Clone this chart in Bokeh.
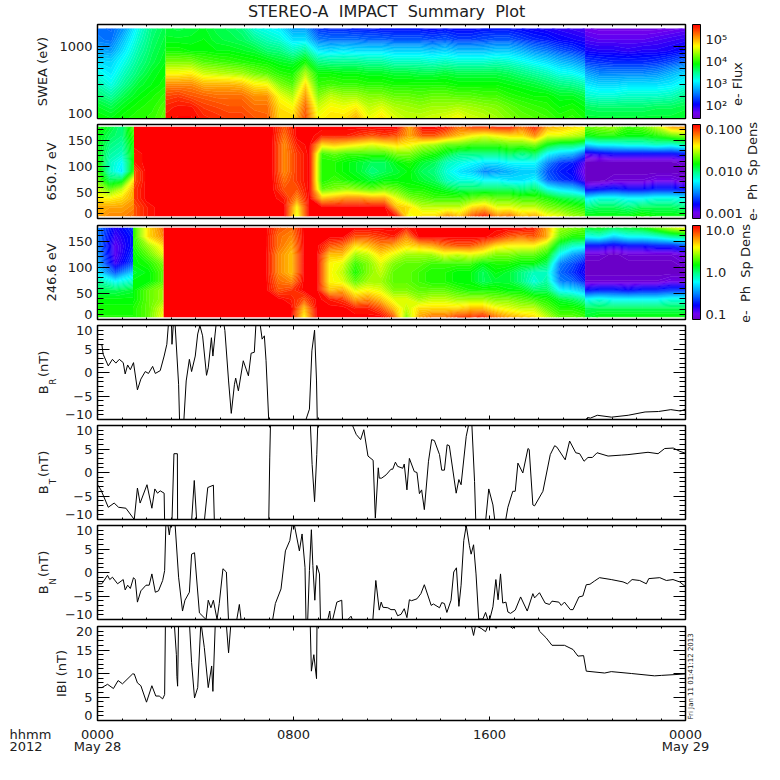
# STEREO-A IMPACT summary plot, 2012 May 28
import numpy as np
from bokeh.embed import file_html
from bokeh.layouts import column
from bokeh.models import ColorBar, FixedTicker, Label, LinearAxis, LogAxis, LogColorMapper, Range1d
from bokeh.plotting import figure
from bokeh.resources import INLINE

FONT = "DejaVu Sans"

# palette anchors of the colour bars
palette_pos = [0, 0.06, 0.15, 0.27, 0.40, 0.50, 0.58, 0.77, 0.87, 1.0]
palette_rgb = [(106, 0, 200), (112, 0, 240), (0, 0, 255), (0, 128, 255), (0, 255, 255),
               (0, 255, 128), (0, 255, 0), (255, 255, 0), (255, 144, 0), (255, 0, 0)]

# SWEA log10 flux, one list per time column, lowest energy first
energy_bins = [100, 143, 205, 293, 420, 602, 862, 1235, 1770]
swea_edges = [0, 2.78, 19.9, 24]
swea_a = [
    [3.9, 3.8, 3.6, 3.4, 3.2, 3.0, 2.75, 2.55, 2.5],
    [3.85, 3.7, 3.45, 3.2, 3.05, 2.95, 2.7, 2.5, 2.45],
    [3.95, 3.85, 3.7, 3.5, 3.35, 3.2, 3.05, 2.9, 2.7],
    [4.0, 3.95, 3.85, 3.75, 3.6, 3.5, 3.4, 3.3, 3.2],
    [4.05, 4.0, 3.95, 3.85, 3.8, 3.7, 3.65, 3.6, 3.55],
    [4.2, 4.15, 4.05, 3.95, 3.9, 3.85, 3.8, 3.75, 3.7],
]
swea_b = [
    [5.6, 5.55, 5.4, 5.15, 4.7, 4.3, 3.95, 3.8, 3.75],
    [5.65, 5.6, 5.45, 5.15, 4.7, 4.3, 3.95, 3.8, 3.7],
    [5.65, 5.6, 5.35, 5.15, 4.75, 4.3, 3.9, 3.8, 3.75],
    [5.55, 5.45, 5.3, 5.0, 4.55, 4.15, 3.9, 3.85, 3.8],
    [5.5, 5.4, 5.25, 5.0, 4.5, 4.1, 3.85, 3.75, 3.7],
    [5.45, 5.35, 5.25, 5.0, 4.45, 4.05, 3.85, 3.7, 3.65],
    [5.45, 5.35, 5.25, 4.95, 4.4, 4.0, 3.8, 3.65, 3.55],
    [5.35, 5.25, 5.1, 4.75, 4.25, 3.95, 3.75, 3.5, 3.25],
    [5.3, 5.25, 5.1, 4.7, 4.15, 3.9, 3.6, 3.35, 3.15],
    [4.85, 4.8, 4.65, 4.3, 4.0, 3.8, 3.55, 3.25, 3.05],
    [4.85, 4.7, 4.45, 4.15, 3.95, 3.75, 3.35, 3.0, 2.7],
    [5.4, 5.3, 5.1, 4.85, 4.45, 3.95, 3.5, 3.0, 2.7],
    [4.7, 4.55, 4.3, 4.05, 3.9, 3.55, 3.05, 2.55, 2.25],
    [4.8, 4.7, 4.5, 4.1, 3.9, 3.5, 3.0, 2.5, 2.2],
    [4.8, 4.65, 4.4, 4.05, 3.85, 3.5, 3.05, 2.5, 2.2],
    [5.0, 4.75, 4.4, 4.05, 3.85, 3.5, 3.0, 2.5, 2.15],
    [4.65, 4.5, 4.3, 4.0, 3.8, 3.45, 3.0, 2.45, 2.15],
    [4.8, 4.6, 4.3, 4.0, 3.8, 3.45, 3.0, 2.45, 2.1],
    [4.6, 4.45, 4.2, 3.95, 3.75, 3.35, 2.95, 2.4, 2.1],
    [4.5, 4.4, 4.2, 3.95, 3.75, 3.35, 2.95, 2.4, 2.1],
    [4.5, 4.35, 4.15, 3.95, 3.7, 3.35, 2.95, 2.4, 2.1],
    [4.55, 4.4, 4.2, 3.95, 3.7, 3.3, 2.9, 2.35, 2.05],
    [4.6, 4.4, 4.2, 3.95, 3.75, 3.35, 2.95, 2.4, 2.1],
    [4.7, 4.45, 4.15, 3.9, 3.7, 3.3, 2.85, 2.3, 2.05],
    [4.55, 4.4, 4.15, 3.9, 3.7, 3.3, 2.85, 2.3, 2.05],
    [4.5, 4.35, 4.1, 3.9, 3.7, 3.3, 2.85, 2.35, 2.1],
    [4.4, 4.3, 4.1, 3.9, 3.7, 3.35, 2.9, 2.4, 2.1],
    [4.3, 4.2, 4.0, 3.85, 3.65, 3.3, 2.9, 2.4, 2.1],
    [4.2, 4.1, 3.95, 3.8, 3.55, 3.2, 2.8, 2.3, 2.05],
    [4.15, 4.05, 3.9, 3.75, 3.45, 3.1, 2.65, 2.2, 2.0],
    [4.1, 4.0, 3.9, 3.65, 3.35, 3.0, 2.55, 2.15, 1.95],
    [4.0, 3.9, 3.8, 3.55, 3.2, 2.85, 2.4, 2.05, 1.9],
    [4.05, 3.95, 3.8, 3.5, 3.15, 2.75, 2.3, 2.0, 1.85],
    [3.95, 3.85, 3.7, 3.4, 3.0, 2.6, 2.15, 1.95, 1.8],
]
swea_c = [
    [3.75, 3.65, 3.3, 3.05, 2.75, 2.3, 2.0, 1.8, 1.65],
    [3.75, 3.6, 3.25, 2.95, 2.6, 2.25, 1.95, 1.75, 1.6],
    [3.75, 3.6, 3.25, 2.95, 2.6, 2.2, 1.95, 1.75, 1.6],
    [3.75, 3.6, 3.3, 3.0, 2.6, 2.2, 1.9, 1.75, 1.6],
    [3.75, 3.6, 3.3, 3.0, 2.6, 2.2, 1.95, 1.75, 1.6],
    [3.75, 3.65, 3.3, 3.0, 2.65, 2.25, 1.95, 1.8, 1.6],
    [3.75, 3.65, 3.35, 3.05, 2.8, 2.35, 2.0, 1.85, 1.65],
    [3.8, 3.7, 3.5, 3.2, 2.95, 2.5, 2.1, 1.9, 1.7],
]

# 650.7 eV log10 phase space density vs pitch angle, 0 deg side first
pitch_bins = [4.5, 21.6, 38.7, 55.8, 72.9, 90, 107.1, 124.2, 141.3, 158.4, 175.5]
sat_650 = [-1.0] * 11
pa650_edges = [0, 1.49, 19.9, 24]
pa650_a = [
    [-1.3, -1.3, -1.45, -1.55, -1.7, -1.75, -1.8, -1.85, -1.85, -1.85, -1.8],
    [-1.25, -1.3, -1.45, -1.7, -1.95, -2.1, -2.1, -2.05, -2.0, -1.95, -1.9],
    [-1.25, -1.3, -1.4, -1.55, -1.9, -2.25, -2.2, -2.1, -2.05, -2.0, -2.0],
    [-1.2, -1.25, -1.3, -1.3, -1.4, -1.75, -1.8, -1.8, -1.8, -1.75, -1.7],
]
pa650_b = [
    [-1.15, -1.15, -1.1, -1.1, -1.15, -1.15, -1.05, -1.05, -1.0, -1.0, -1.0],
    [-1.05, -1.05, -1.0, -1.0, -1.0, -1.0, -1.0, -1.0, -1.0, -1.0, -1.0],
    sat_650, sat_650, sat_650, sat_650, sat_650, sat_650, sat_650, sat_650, sat_650, sat_650,
    [-1.0, -1.0, -1.05, -1.15, -1.2, -1.25, -1.25, -1.25, -1.25, -1.2, -1.15],
    [-1.5, -1.45, -1.25, -1.15, -1.1, -1.1, -1.1, -1.1, -1.05, -1.0, -1.0],
    sat_650,
    [-1.0, -1.0, -1.35, -1.7, -1.8, -1.8, -1.8, -1.75, -1.4, -1.05, -1.0],
    [-1.0, -1.0, -1.3, -1.65, -1.75, -1.8, -1.8, -1.7, -1.35, -1.05, -1.0],
    [-1.0, -1.0, -1.25, -1.6, -1.8, -1.85, -1.85, -1.75, -1.4, -1.05, -1.0],
    [-1.0, -1.0, -1.25, -1.65, -1.85, -1.9, -1.9, -1.75, -1.45, -1.1, -1.0],
    [-1.0, -1.0, -1.3, -1.7, -1.9, -2.0, -1.95, -1.75, -1.5, -1.15, -1.0],
    [-1.0, -1.0, -1.3, -1.65, -1.85, -1.95, -1.95, -1.75, -1.45, -1.1, -1.0],
    [-1.05, -1.35, -1.5, -1.7, -1.85, -1.9, -1.85, -1.65, -1.4, -1.15, -1.0],
    [-1.5, -1.4, -1.65, -1.8, -1.85, -1.85, -1.8, -1.65, -1.45, -1.3, -1.3],
    [-1.4, -1.55, -1.7, -1.8, -1.9, -1.95, -1.9, -1.75, -1.55, -1.15, -1.0],
    [-1.4, -1.55, -1.75, -1.85, -1.95, -2.0, -1.95, -1.8, -1.6, -1.15, -1.0],
    [-1.25, -1.55, -1.75, -1.9, -2.1, -2.15, -2.1, -1.9, -1.7, -1.25, -1.05],
    [-1.35, -1.55, -1.75, -1.95, -2.15, -2.25, -2.15, -2.0, -1.7, -1.35, -1.2],
    [-1.15, -1.4, -1.7, -1.95, -2.15, -2.3, -2.2, -2.0, -1.75, -1.45, -1.1],
    [-1.05, -1.35, -1.65, -1.95, -2.2, -2.45, -2.25, -2.0, -1.75, -1.5, -1.1],
    [-1.25, -1.5, -1.7, -1.95, -2.2, -2.4, -2.25, -2.0, -1.75, -1.45, -1.05],
    [-1.2, -1.5, -1.7, -1.95, -2.25, -2.35, -2.2, -1.95, -1.7, -1.4, -1.05],
    [-1.35, -1.55, -1.75, -2.0, -2.25, -2.3, -2.2, -2.0, -1.7, -1.4, -1.2],
    [-1.3, -1.55, -1.75, -1.95, -2.2, -2.3, -2.2, -1.95, -1.65, -1.25, -1.05],
    [-1.45, -1.65, -1.8, -2.15, -2.5, -2.55, -2.45, -2.2, -1.85, -1.5, -1.3],
    [-1.5, -1.7, -1.9, -2.25, -2.6, -2.65, -2.6, -2.3, -1.95, -1.5, -1.35],
    [-1.6, -1.75, -1.95, -2.3, -2.65, -2.7, -2.65, -2.35, -1.95, -1.55, -1.4],
    [-1.65, -1.8, -2.0, -2.45, -2.85, -2.9, -2.85, -2.55, -2.05, -1.6, -1.45],
]
pa650_c = [
    [-1.85, -2.0, -2.25, -2.75, -3.0, -3.0, -3.0, -2.8, -2.3, -1.85, -1.7],
    [-1.85, -1.95, -2.15, -2.7, -3.0, -3.0, -3.0, -2.75, -2.2, -1.8, -1.65],
    [-1.85, -1.95, -2.15, -2.65, -2.95, -3.0, -3.0, -2.7, -2.2, -1.8, -1.6],
    [-1.85, -2.0, -2.2, -2.7, -2.95, -3.0, -3.0, -2.7, -2.15, -1.85, -1.75],
    [-1.8, -1.95, -2.2, -2.7, -2.95, -3.0, -3.0, -2.7, -2.15, -1.85, -1.7],
    [-1.85, -1.95, -2.15, -2.65, -2.9, -3.0, -3.0, -2.7, -2.1, -1.8, -1.55],
    [-1.85, -1.95, -2.15, -2.65, -2.9, -3.0, -3.0, -2.7, -2.15, -1.7, -1.3],
    [-1.85, -2.0, -2.2, -2.7, -2.95, -3.0, -2.95, -2.65, -2.05, -1.65, -1.25],
]

# 246.6 eV log10 phase space density vs pitch angle
sat_246 = [1.0] * 11
pa246_edges = [0, 1.45, 2.7, 19.9, 24]
pa246_a = [
    [0.2, 0.18, 0.15, 0.05, -0.05, -0.25, -0.35, -0.4, -0.45, -0.45, -0.45],
    [0.2, 0.18, 0.15, 0.05, -0.2, -0.55, -0.8, -0.85, -0.85, -0.8, -0.75],
    [0.2, 0.18, 0.15, 0.1, -0.1, -0.3, -0.55, -0.6, -0.65, -0.65, -0.6],
]
pa246_b = [
    [0.2, 0.2, 0.15, 0.15, 0.15, 0.1, 0.15, 0.15, 0.2, 0.2, 0.2],
    [0.3, 0.3, 0.3, 0.3, 0.15, 0.15, 0.2, 0.3, 0.4, 0.6, 0.6],
    [0.55, 0.5, 0.4, 0.4, 0.3, 0.3, 0.35, 0.5, 0.6, 0.75, 0.8],
]
pa246_c = [
    sat_246, sat_246, sat_246, sat_246, sat_246, sat_246, sat_246, sat_246, sat_246,
    [1.0, 1.0, 1.0, 0.85, 0.8, 0.75, 0.75, 0.75, 0.8, 0.8, 0.85],
    [1.0, 1.0, 0.95, 0.9, 0.75, 0.65, 0.65, 0.65, 0.7, 0.75, 0.8],
    [0.55, 0.65, 0.85, 1.0, 1.0, 1.0, 1.0, 1.0, 1.0, 1.0, 1.0],
    sat_246,
    [1.0, 1.0, 0.95, 0.65, 0.55, 0.55, 0.55, 0.65, 0.85, 1.0, 1.0],
    [1.0, 1.0, 0.9, 0.7, 0.5, 0.45, 0.5, 0.65, 0.8, 1.0, 1.0],
    [1.0, 0.95, 0.7, 0.5, 0.3, 0.2, 0.25, 0.4, 0.6, 0.85, 1.0],
    [1.0, 0.95, 0.75, 0.55, 0.4, 0.35, 0.35, 0.45, 0.65, 0.85, 1.0],
    [1.0, 0.85, 0.65, 0.5, 0.4, 0.45, 0.5, 0.6, 0.75, 0.9, 1.0],
    [0.85, 0.65, 0.5, 0.35, 0.3, 0.3, 0.35, 0.5, 0.7, 0.95, 1.0],
    [0.35, 0.45, 0.5, 0.35, 0.3, 0.3, 0.3, 0.4, 0.6, 0.75, 0.95],
    [0.7, 0.6, 0.4, 0.3, 0.25, 0.25, 0.3, 0.4, 0.65, 1.0, 1.0],
    [0.8, 0.6, 0.45, 0.3, 0.2, 0.2, 0.25, 0.4, 0.7, 1.0, 1.0],
    [0.8, 0.6, 0.45, 0.3, 0.2, 0.2, 0.25, 0.5, 0.8, 1.0, 1.0],
    [0.9, 0.6, 0.4, 0.25, 0.15, 0.15, 0.25, 0.45, 0.85, 1.0, 1.0],
    [0.9, 0.65, 0.4, 0.2, 0.15, 0.15, 0.25, 0.5, 0.85, 1.0, 1.0],
    [0.95, 0.65, 0.4, 0.2, 0.05, 0.05, 0.15, 0.45, 0.75, 1.0, 1.0],
    [0.8, 0.55, 0.35, 0.2, 0.1, 0.15, 0.2, 0.35, 0.6, 0.95, 1.0],
    [0.7, 0.5, 0.35, 0.15, 0.1, 0.1, 0.2, 0.35, 0.55, 0.85, 1.0],
    [0.65, 0.45, 0.3, 0.15, 0.0, 0.0, 0.15, 0.3, 0.55, 0.8, 1.0],
    [0.6, 0.45, 0.25, 0.05, -0.15, -0.1, 0.15, 0.3, 0.55, 0.85, 0.95],
    [0.45, 0.3, 0.2, 0.05, -0.05, -0.1, 0.05, 0.2, 0.4, 0.7, 0.7],
    [0.3, 0.2, 0.1, -0.2, -0.45, -0.5, -0.45, -0.2, 0.05, 0.3, 0.4],
    [0.3, 0.2, 0.05, -0.25, -0.5, -0.6, -0.55, -0.4, -0.1, 0.2, 0.35],
    [0.25, 0.15, -0.05, -0.35, -0.65, -0.75, -0.7, -0.5, -0.15, 0.2, 0.3],
]
pa246_d = [
    [0.1, 0.05, -0.2, -0.7, -0.95, -1.0, -1.0, -0.95, -0.7, -0.2, 0.1],
    [0.15, 0.05, -0.15, -0.65, -0.95, -1.0, -1.0, -0.95, -0.7, -0.15, 0.15],
    [0.15, 0.05, -0.2, -0.65, -0.95, -1.0, -1.0, -1.0, -0.75, -0.3, 0.05],
    [0.15, 0.05, -0.2, -0.7, -0.95, -1.0, -1.0, -0.95, -0.7, -0.2, 0.1],
    [0.15, 0.05, -0.2, -0.65, -0.95, -1.0, -1.0, -0.95, -0.7, -0.2, 0.15],
    [0.15, 0.05, -0.2, -0.65, -0.95, -1.0, -1.0, -0.95, -0.65, -0.15, 0.3],
    [0.15, 0.05, -0.15, -0.6, -0.9, -1.0, -1.0, -0.95, -0.65, -0.05, 0.45],
    [0.15, 0.05, -0.15, -0.6, -0.9, -1.0, -0.95, -0.9, -0.55, 0.0, 0.55],
]

# magnetic field, hours from 0000 and nT; off scale stretches run past the axis limits
br_t = [0, .18, .23, .44, .61, .75, .89, 1.05, 1.13, 1.23, 1.34, 1.47, 1.63, 1.77, 1.95, 2.08, 2.25, 2.36, 2.56, 2.72,
        2.83, 2.9, 3.02, 3.04, 3.1, 3.17, 3.31, 3.36, 3.5, 3.62, 3.75, 3.84, 3.99, 4.09, 4.18, 4.29, 4.45, 4.52, 4.65,
        4.71, 4.8, 4.85, 5.15, 5.2, 5.35, 5.46, 5.59, 5.64, 5.75, 5.95, 6.16, 6.27, 6.4, 6.47, 6.63, 6.72, 6.81, 6.88,
        6.99, 7.05, 8.45, 8.51, 8.65, 8.75, 8.86, 8.94, 8.97, 9.02, 19.85, 19.92, 20.02, 20.12, 20.4, 20.98, 21.66,
        22.35, 22.9, 23.4, 23.8, 24]
br_v = [6, 5.9, 3.9, 1.4, 2.8, 2, 2.8, 2.1, -.3, 1.6, .6, 2.1, -3.7, -1.4, .2, -.2, 1.3, -.2, .4, 3.5,
        6, 10.6, 10.6, 6, 10.6, 10, -2.5, -12.4, -12.4, -1.8, 2.8, .2, 3.5, 8.2, 10, 7.8, -.6, 1, 7.4,
        3.5, 8.2, 10.6, 10.6, 8.9, -1.8, -8.7, -2.5, -1.2, -3.9, 2.5, -.7, 4.1, 4.3, 10.6, 10.6, 7.1, 7.8, 2.5,
        -10.3, -14, -14, -10, -7.8, 4.6, 9, -1.8, -10, -14, -14, -10, -9.6, -9.7, -9.1, -9.5, -9.1,
        -8.4, -8.3, -7.9, -8.2, -7.8]
bt_t = [0, .14, .44, .68, .86, 1.16, 1.5, 1.63, 1.74, 2.02, 2.22, 2.34, 2.45, 2.56, 2.72, 2.74, 3.04, 3.12, 3.26, 3.27,
        3.84, 3.95, 4.05, 4.36, 4.5, 4.73, 4.77, 6.99, 7.03, 7.06, 8.69, 8.76, 8.86, 8.95, 8.99, 10.41, 10.56, 10.74,
        10.87, 11.04, 11.25, 11.34, 11.46, 11.5, 11.6, 11.78, 11.98, 12.05, 12.16, 12.25, 12.46, 12.52, 12.63, 12.73,
        12.93, 13.04, 13.14, 13.23, 13.34, 13.51, 13.64, 13.75, 13.96, 14.05, 14.16, 14.27, 14.36, 14.64, 14.75, 14.84,
        15.05, 15.15, 15.28, 15.39, 15.44, 15.84, 15.97, 16.14, 16.22, 16.3, 16.36, 16.65, 16.75, 16.95, 17.05, 17.16,
        17.36, 17.57, 17.62, 17.77, 17.84, 18.18, 18.48, 18.66, 18.75, 19.09, 19.27, 19.52, 19.68, 19.86, 20.02, 20.2,
        20.39, 20.84, 21.38, 21.65, 22.47, 22.88, 23.15, 23.5, 23.77, 24]
bt_v = [-2.6, -3.7, -7.4, -6.5, -7.4, -7.6, -10, -3.3, -6.5, -2.6, -7.6, -3.5, -4.4, -3.9, -4.4, -10.4, -10.4, 4, 4, -10.4,
        -10.4, -1.7, -10.4, -10.4, -3.2, -2.7, -10.4, -10.4, 3.1, 10.2, 10.2, 1.7, -6.2, 3.8, 10.2, 10, 8.1, 7,
        9.1, 3.5, 2.6, -9.7, 1, -1.2, -1.2, -.5, .7, .7, 2.2, 1.3, .9, 1.8, -3.7, 3,
        .2, 0, -4.5, -3.7, -7.9, 2.4, 7, 6.8, 3.8, .5, .5, 5.9, 5.7, -4.4, -1.5, -2.6,
        7.7, 10.2, 10.2, -1.9, -10.4, -10.4, -3.5, -6.9, -10.4, -10, -10.4, -10.4, -7.4, -4, -4, 2,
        -.1, 5.1, 4.9, -6.9, -7.1, -4, 3.8, 5.7, 5.4, 2.7, 6.7, 4.2, 4, 2.4, 3.2, 3.2,
        4.2, 3.5, 3.7, 3.8, 4.3, 4, 5.1, 5.2, 4.5, 4.1]
bn_t = [0, .18, .41, .5, .61, .82, 1.05, 1.13, 1.23, 1.34, 1.47, 1.54, 1.63, 1.77, 1.98, 2.11, 2.22, 2.36, 2.49, 2.66,
        2.74, 2.79, 2.86, 2.93, 3, 3.17, 3.31, 3.47, 3.57, 3.75, 3.84, 3.96, 4.16, 4.43, 4.52, 4.63, 4.73, 4.88, 4.97,
        5.12, 5.26, 5.35, 5.67, 5.79, 5.87, 7.02, 7.15, 7.26, 7.49, 7.67, 7.85, 7.94, 8.04, 8.24, 8.35, 8.47, 8.51,
        8.58, 8.65, 8.73, 8.79, 8.87, 8.95, 9.06, 9.1, 9.4, 9.48, 9.52, 9.6, 9.77, 9.97, 10, 10.22, 10.35, 10.4, 11.24,
        11.36, 11.5, 11.58, 11.65, 11.85, 11.98, 12.14, 12.25, 12.39, 12.52, 12.63, 12.73, 12.82, 13.04, 13.2, 13.34,
        13.62, 13.71, 13.96, 14.05, 14.16, 14.26, 14.43, 14.54, 14.65, 14.75, 14.84, 14.95, 15.05, 15.18, 15.25, 15.35,
        15.45, 15.56, 15.73, 15.84, 15.93, 16.01, 16.14, 16.26, 16.35, 16.45, 16.54, 16.67, 16.75, 16.86, 17.05, 17.27,
        17.54, 17.77, 17.84, 18.04, 18.27, 18.45, 18.55, 18.83, 18.93, 19.06, 19.3, 19.41, 19.65, 19.81, 19.95, 20.1,
        20.29, 20.49, 20.97, 21.45, 21.63, 21.82, 22.13, 22.4, 22.5, 22.95, 23.22, 23.49, 23.76, 24]
bn_v = [-2.4, -2.4, -.6, -1.5, -1, -2.4, -1.5, -3.7, -2.7, -3.4, -1.1, -1.5, -6.3, -3.9, -2.7, -2.7, -.3, -4.2, -3.9, -1.7,
        .4, 10, 10.7, 8, 10.7, 10, -1, -8.2, -5.9, -4.2, 3.9, 4.2, -8.6, -10, -5.9, -7.5, -5.9, -10, -6.6,
        .8, .1, -10.5, -10.5, -6.8, -10.5, -10, -10, -6.6, -3.5, 4.6, 6.8, 10, 10, 4.6, 8.2, 1.1, -10,
        -10, .4, 9.1, 1.5, -5.9, 1.5, -.3, -10, -10, -8.2, -10.5, -10, -6.3, -5.9, -10, -10, -9.3, -10, -10,
        -1.7, -8, -6.3, -7.4, -7.5, -7.9, -7.9, -9.2, -8.9, -7.7, -9.6, -5.8, -6, -5.6, -4.5, -2.6,
        -7, -6.7, -7.5, -6.4, -6.6, -8.5, -5.9, .1, 1, -7.2, -2.7, 6.8, 10, 5.7, 3.9, 5.9,
        -.3, -9.9, -9.9, -8.5, -10, -10, -7.3, -1.5, -5.8, -.3, -6.5, -6.3, -8.4, -8.7, -8, -5.2,
        -8.2, -4.5, -5.4, -4.3, -6.5, -6.8, -6.1, -6.3, -7, -6.3, -7.9, -7.9, -5.2, -5, -2.6, -2.5,
        -1.8, -1.1, -1.5, -2, -2.4, -1.5, -1.7, -2.4, -1.3, -1.1, -1.7, -1.5, -2, -3]
bmag_t = [0, .18, .41, .65, .84, 1.02, 1.43, 1.5, 1.63, 1.77, 2, 2.22, 2.38, 2.52, 2.66, 2.74, 2.77, 2.79, 3.13, 3.22,
          3.24, 3.27, 3.31, 3.75, 3.84, 3.96, 4.09, 4.22, 4.36, 4.52, 4.66, 4.71, 4.81, 5.25, 5.35, 5.45, 8.68, 8.73,
          8.83, 8.94, 8.96, 15.25, 15.35, 15.43, 15.66, 15.84, 15.93, 16.2, 16.27, 16.34, 16.82, 16.95, 17.05, 17.97,
          18.04, 18.31, 18.55, 19.06, 19.41, 19.61, 19.84, 19.95, 20.7, 20.97, 21.79, 22.74, 23.02, 24]
bmag_v = [7, 7, 7.7, 6.8, 8.5, 7.8, 9.9, 9.9, 8, 7.4, 3.9, 7.4, 5.2, 5.2, 4.6, 5.5, 19.7, 21, 21, 14,
          9.4, 7.3, 21, 21, 12.3, 4.8, 7, 21, 15.5, 7, 11.6, 6.2, 21, 21, 14.4, 21, 21, 10.5,
          14, 8.9, 21, 20.4, 18.1, 20.2, 19.6, 18.9, 20.1, 20, 19.6, 20.2, 20.1, 19.6, 20.2, 20.1,
          19, 17.6, 16, 16, 15.1, 13.7, 13.8, 10.5, 10.1, 10.4, 10, 9.5, 9.6, 9.9]

hour_ticks = [0, 8, 16, 24]
hour_minor = list(range(25))
time_labels = {0: "0000\nMay 28", 8: "0800", 16: "1600", 24: "0000\nMay 29"}
pitch_ticks = [0, 50, 100, 150]
pitch_minor = list(range(0, 180, 10))
energy_ticks = [100, 1000]
energy_minor = [200, 300, 400, 500, 600, 700, 800, 900]
b_ticks = [-10, -5, 0, 5, 10]
b_minor = list(range(-10, 11))
bmag_ticks = [0, 5, 10, 15, 20]
bmag_minor = list(range(0, 21))

# tick text; the labels at the axis ends are pulled a little inside the limits
energy_text = {117.5: "100", 1000: "1000"}
pitch_text = {9.6: "0", 50: "50", 100: "100", 150: "150"}
b_text = {-8.94: "\u221210", -5: "\u22125", 0: "0", 5: "5", 8.94: "10"}
bmag_text = {1.06: "0", 5: "5", 10: "10", 15: "15", 18.94: "20"}

stops = np.array(palette_rgb, dtype=float)


def rainbow(fracs):
    return ["#%02x%02x%02x" % tuple(int(np.interp(f, palette_pos, stops[:, i])) for i in range(3)) for f in fracs]


bar_colors = rainbow(np.linspace(0, 1, 256))


def txt(text, x, y, size=13, angle=0, dx=0, dy=0, align="center", baseline="middle"):
    return Label(x=x, y=y, x_offset=dx, y_offset=dy, text=text, angle=angle, angle_units="deg",
                 text_font=FONT, text_font_size=f"{size}px", text_color="#202020",
                 text_align=align, text_baseline=baseline)


def panel(yrange, yticks, yminor, ytext, ylabel, standoff, top, bottom, log=False, last=False):
    p = figure(frame_width=588, frame_height=94, min_border_left=97, min_border_right=87,
               min_border_top=top, min_border_bottom=bottom, x_range=Range1d(0, 24), y_range=Range1d(*yrange),
               x_axis_location=None, y_axis_location=None, y_axis_type="log" if log else "linear",
               toolbar_location=None, output_backend="svg")
    p.grid.grid_line_color = None
    p.outline_line_color = "black"
    p.outline_line_width = 1.5

    marks = dict(major_tick_out=0, minor_tick_out=0, axis_line_color="black", major_tick_line_color="black",
                 minor_tick_line_color="black", major_tick_line_width=1, minor_tick_line_width=1,
                 major_label_standoff=0, major_label_text_font_size="1px", major_label_text_color=None)
    axis_cls = LogAxis if log else LinearAxis
    yticker = FixedTicker(ticks=yticks, minor_ticks=yminor)
    p.add_layout(axis_cls(ticker=yticker, major_tick_in=12, minor_tick_in=6, **marks), "left")
    p.add_layout(axis_cls(ticker=yticker, major_tick_in=12, minor_tick_in=6, **marks), "right")

    # tick text lives on its own axis without marks
    words = axis_cls(ticker=FixedTicker(ticks=list(ytext)), major_label_overrides=ytext, major_label_standoff=5,
                     major_tick_in=0, major_tick_out=0, minor_tick_in=0, minor_tick_out=0, axis_line_color=None,
                     major_tick_line_color=None, minor_tick_line_color=None,
                     major_label_text_font=FONT, major_label_text_font_size="13px", major_label_text_color="#202020",
                     axis_label=ylabel, axis_label_standoff=standoff, axis_label_text_font=FONT,
                     axis_label_text_font_size="13px", axis_label_text_font_style="normal",
                     axis_label_text_color="#202020")
    p.add_layout(words, "left")

    xticker = FixedTicker(ticks=hour_ticks, minor_ticks=hour_minor)
    p.add_layout(LinearAxis(ticker=xticker, major_tick_in=4, minor_tick_in=2, **marks), "above")
    if last:
        marks.update(major_label_standoff=6, major_label_text_font=FONT, major_label_text_font_size="13px",
                     major_label_text_color="#202020", major_label_text_line_height=0.85)
    p.add_layout(LinearAxis(ticker=xticker, major_tick_in=4, minor_tick_in=2,
                            major_label_overrides=time_labels, **marks), "below")
    return p


def heatmap(p, edges, blocks, ybins, low, high):
    levels = np.linspace(low - 0.01, high + 0.01, 73)
    fills = rainbow(np.linspace(0, 1, 72))
    lines = rainbow(np.linspace(0, 1, 73))
    for t0, t1, block in zip(edges[:-1], edges[1:], blocks):
        z = np.array(block).T
        p.contour(np.linspace(t0, t1, z.shape[1]), ybins, z, levels, fill_color=fills, line_color=lines, line_width=0.6)


def colorbar(p, mapper, ticks, labels):
    bar = ColorBar(color_mapper=mapper, location=(595, 0), width=8, height=94, padding=0, margin=0,
                   ticker=FixedTicker(ticks=ticks), major_label_overrides=dict(zip(ticks, labels)),
                   major_tick_line_color=None, minor_tick_line_color=None, bar_line_color="black", bar_line_width=1,
                   label_standoff=5, background_fill_alpha=0, border_line_color=None,
                   major_label_text_font=FONT, major_label_text_font_size="13px", major_label_text_color="#202020")
    p.add_layout(bar)


swea_map = LogColorMapper(palette=bar_colors, low=10 ** 1.4, high=10 ** 5.69)
pa650_map = LogColorMapper(palette=bar_colors, low=0.001, high=0.1)
pa246_map = LogColorMapper(palette=bar_colors, low=0.1, high=10.0)

p1 = panel((100, 2015), energy_ticks, energy_minor, energy_text, "SWEA (eV)", 6, 24, 3, log=True)
heatmap(p1, swea_edges, [swea_a, swea_b, swea_c], energy_bins, 1.4, 5.69)
colorbar(p1, swea_map, [100, 1000, 10000, 100000], ["10²", "10³", "10⁴", "10⁵"])
p1.add_layout(txt("STEREO-A\u00a0 IMPACT\u00a0 Summary\u00a0 Plot", 11.8, 2015, size=16, dy=13), "above")
p1.add_layout(txt("e- Flux", 24, 300, angle=90, dx=52), "right")

p2 = panel((0, 180), pitch_ticks, pitch_minor, pitch_text, "650.7 eV", 6, 3, 3)
heatmap(p2, pa650_edges, [pa650_a, pa650_b, pa650_c], pitch_bins, -3.0, -1.0)
colorbar(p2, pa650_map, [0.00125, 0.01, 0.08], ["0.001", "0.010", "0.100"])
p2.add_layout(txt("e-\u00a0 Ph\u00a0 Sp Dens", 24, 90, angle=90, dx=67), "right")

p3 = panel((0, 180), pitch_ticks, pitch_minor, pitch_text, "246.6 eV", 6, 4, 3)
heatmap(p3, pa246_edges, [pa246_a, pa246_b, pa246_c, pa246_d], pitch_bins, -1.0, 1.0)
colorbar(p3, pa246_map, [0.125, 1.0, 8.0], ["0.1", "1.0", "10.0"])
p3.add_layout(txt("e-\u00a0 Ph\u00a0 Sp Dens", 24, 90, angle=90, dx=60, dy=-1), "right")

field_panels = []
for sub, ts, vs, top, bottom in [("R", br_t, br_v, 3, 3), ("T", bt_t, bt_v, 3, 3), ("N", bn_t, bn_v, 3, 3)]:
    p = panel((-10, 10), b_ticks, b_minor, b_text, "B\u00a0\u00a0(nT)", 11, top, bottom)
    p.line(ts, vs, line_color="black", line_width=1)
    p.add_layout(txt(sub, 0, 0, size=9, angle=90, dx=-45, dy=-9), "left")
    field_panels.append(p)

p7 = panel((0, 20), bmag_ticks, bmag_minor, bmag_text, "IBI (nT)", 4, 4, 40, last=True)
p7.line(bmag_t, bmag_v, line_color="black", line_width=1)
p7.add_layout(txt("hhmm", 0, 0, dx=-88, dy=-14, align="left"), "below")
p7.add_layout(txt("2012", 0, 0, dx=-88, dy=-26, align="left"), "below")
p7.add_layout(txt("Fri Jan 11 01:41:12 2013", 24, 0, size=7, angle=90, dx=5, dy=1, align="left"), "right")

page = column(p1, p2, p3, *field_panels, p7, spacing=0)
open("out.html", "w").write(file_html(page, INLINE))
